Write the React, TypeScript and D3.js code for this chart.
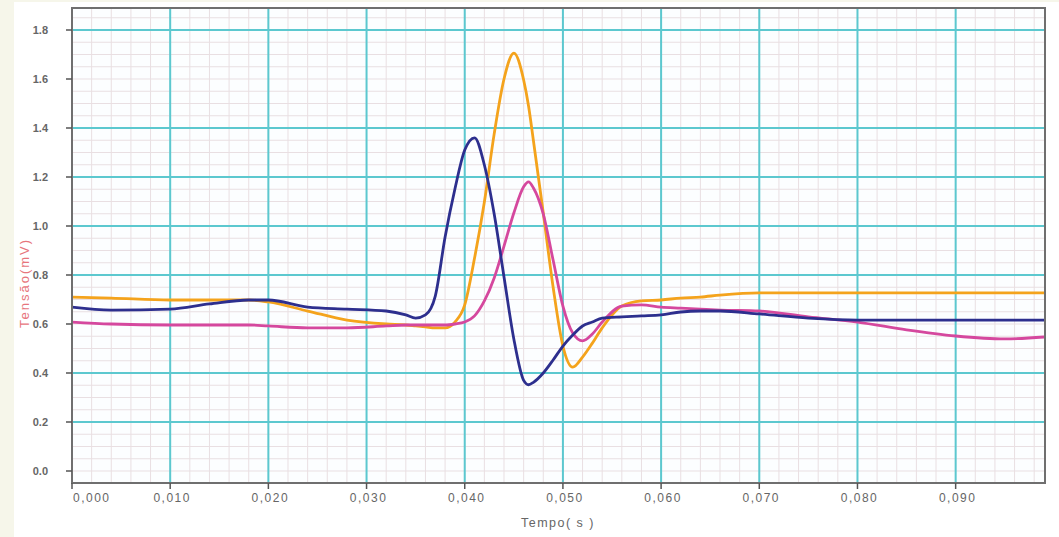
import React, { useEffect, useRef } from 'react';
import * as d3 from 'd3';

// sample times (s)
const times = [
  0, 0.004, 0.01, 0.014, 0.018, 0.02, 0.024, 0.028, 0.032, 0.034, 0.035, 0.036, 0.037, 0.038,
  0.039, 0.04, 0.041, 0.042, 0.043, 0.044, 0.045, 0.046, 0.0465, 0.047, 0.048, 0.049, 0.05,
  0.051, 0.052, 0.053, 0.054, 0.056, 0.058, 0.06, 0.062, 0.064, 0.066, 0.07, 0.075, 0.08,
  0.085, 0.09, 0.095, 0.099,
];

const orangeValues = [
  0.71, 0.706, 0.698, 0.698, 0.698, 0.69, 0.653, 0.616, 0.6, 0.596, 0.592, 0.588, 0.584, 0.584,
  0.608, 0.678, 0.869, 1.098, 1.376, 1.6, 1.706, 1.596, 1.49, 1.347, 1.053, 0.751, 0.51, 0.424,
  0.465, 0.522, 0.584, 0.673, 0.694, 0.698, 0.706, 0.71, 0.718, 0.727, 0.727, 0.727, 0.727,
  0.727, 0.727, 0.727,
];

const blueValues = [
  0.669, 0.657, 0.661, 0.682, 0.698, 0.698, 0.669, 0.661, 0.653, 0.637, 0.624, 0.637, 0.714,
  0.955, 1.151, 1.31, 1.36, 1.249, 1.049, 0.792, 0.539, 0.37, 0.352, 0.362, 0.4, 0.453, 0.51,
  0.555, 0.592, 0.608, 0.624, 0.629, 0.633, 0.637, 0.649, 0.653, 0.653, 0.641, 0.624, 0.616,
  0.616, 0.616, 0.616, 0.616,
];

const magentaValues = [
  0.608, 0.6, 0.596, 0.596, 0.596, 0.592, 0.584, 0.584, 0.592, 0.596, 0.596, 0.596, 0.596,
  0.596, 0.6, 0.608, 0.633, 0.694, 0.788, 0.918, 1.053, 1.16, 1.18, 1.155, 1.049, 0.861, 0.673,
  0.563, 0.531, 0.559, 0.608, 0.673, 0.678, 0.669, 0.665, 0.661, 0.657, 0.653, 0.629, 0.608,
  0.576, 0.551, 0.539, 0.547,
];

const xTicks = [0, 0.01, 0.02, 0.03, 0.04, 0.05, 0.06, 0.07, 0.08, 0.09];
const xTickLabels = ['0,000', '0,010', '0,020', '0,030', '0,040', '0,050', '0,060', '0,070', '0,080', '0,090'];
const yTicks = [1.8, 1.6, 1.4, 1.2, 1.0, 0.8, 0.6, 0.4, 0.2, 0.0];
const yTickLabels = ['1.8', '1.6', '1.4', '1.2', '1.0', '0.8', '0.6', '0.4', '0.2', '0.0'];
// horizontal cyan lines visible in the original
const yMajorGrid = [1.8, 1.4, 1.2, 1.0, 0.8, 0.4, 0.2];

const series = [
  { name: 'orange', values: orangeValues, color: '#f4a31c' },
  { name: 'magenta', values: magentaValues, color: '#d5489e' },
  { name: 'blue', values: blueValues, color: '#2d2f8e' },
];

const W = 1059;
const H = 537;

const App: React.FC = () => {
  const ref = useRef<SVGSVGElement>(null);

  useEffect(() => {
    const svg = d3.select(ref.current);
    svg.selectAll('*').remove();

    const left = 72, right = 1045, top = 8, bottom = 483;

    const x = d3.scaleLinear().domain([0, 0.0991]).range([left, right]);
    const y = d3.scaleLinear().domain([0, 0.8]).range([471, 275]);

    svg.append('rect').attr('width', W).attr('height', H).attr('fill', '#f6f6ea');
    svg.append('rect').attr('x', 14).attr('y', 2).attr('width', W - 14).attr('height', H - 2).attr('fill', '#ffffff');
    svg.append('rect').attr('x', left).attr('y', top).attr('width', right - left).attr('height', bottom - top).attr('fill', '#fcfeff');

    const g = svg.append('g');

    // minor grid
    const minorX = d3.range(0.002, 0.0991, 0.002);
    g.selectAll('line.mx').data(minorX).join('line')
      .attr('x1', d => x(d)).attr('x2', d => x(d))
      .attr('y1', top).attr('y2', bottom)
      .attr('stroke', '#e9dfe2').attr('stroke-width', 1);
    const minorY = d3.range(-0.0, 1.9, 0.05);
    g.selectAll('line.my').data(minorY).join('line')
      .attr('x1', left).attr('x2', right)
      .attr('y1', d => y(d)).attr('y2', d => y(d))
      .attr('stroke', '#e9dfe2').attr('stroke-width', 1);

    // major cyan grid
    g.selectAll('line.vx').data(xTicks.slice(1)).join('line')
      .attr('x1', d => x(d)).attr('x2', d => x(d))
      .attr('y1', top).attr('y2', bottom)
      .attr('stroke', '#5cc8cf').attr('stroke-width', 2);
    g.selectAll('line.hy').data(yMajorGrid).join('line')
      .attr('x1', left).attr('x2', right)
      .attr('y1', d => y(d)).attr('y2', d => y(d))
      .attr('stroke', '#5cc8cf').attr('stroke-width', 2);

    // curves
    const line = d3.line<number>()
      .x((_, i) => x(times[i]))
      .y(d => y(d))
      .curve(d3.curveMonotoneX);

    series.forEach(s => {
      g.append('path')
        .attr('d', line(s.values))
        .attr('fill', 'none')
        .attr('stroke', s.color)
        .attr('stroke-width', 2.8)
        .attr('stroke-linejoin', 'round');
    });

    // frame
    svg.append('rect').attr('x', left).attr('y', top).attr('width', right - left).attr('height', bottom - top)
      .attr('fill', 'none').attr('stroke', '#6f6f6f').attr('stroke-width', 2);

    // y ticks and labels
    svg.selectAll('line.yt').data(yTicks).join('line')
      .attr('x1', left - 6).attr('x2', left)
      .attr('y1', d => y(d)).attr('y2', d => y(d))
      .attr('stroke', '#555').attr('stroke-width', 1.5);
    svg.selectAll('text.yl').data(yTicks).join('text')
      .attr('x', 48).attr('y', d => y(d) + 4)
      .attr('text-anchor', 'end')
      .attr('font-family', 'Liberation Sans, Arial, sans-serif')
      .attr('font-size', 11).attr('font-weight', 'bold').attr('fill', '#666')
      .text((_, i) => yTickLabels[i]);

    // x ticks and labels
    svg.selectAll('line.xt').data(xTicks).join('line')
      .attr('x1', d => x(d)).attr('x2', d => x(d))
      .attr('y1', bottom).attr('y2', bottom + 6)
      .attr('stroke', '#555').attr('stroke-width', 1.5);
    svg.selectAll('text.xl').data(xTicks).join('text')
      .attr('x', (d, i) => (i === 0 ? x(d) + 1 : x(d) + 2))
      .attr('y', 502)
      .attr('text-anchor', (_, i) => (i === 0 ? 'start' : 'middle'))
      .attr('font-family', 'Liberation Sans, Arial, sans-serif')
      .attr('font-size', 12).attr('letter-spacing', 1.5).attr('fill', '#666')
      .text((_, i) => xTickLabels[i]);

    // axis titles
    svg.append('text')
      .attr('x', 558).attr('y', 527)
      .attr('text-anchor', 'middle')
      .attr('font-family', 'Liberation Sans, Arial, sans-serif')
      .attr('font-size', 12.5).attr('letter-spacing', 1.5).attr('fill', '#666')
      .text('Tempo( s )');
    svg.append('text')
      .attr('transform', 'translate(29,283) rotate(-90)')
      .attr('text-anchor', 'middle')
      .attr('font-family', 'Liberation Sans, Arial, sans-serif')
      .attr('font-size', 13).attr('letter-spacing', 2).attr('fill', '#e7757c')
      .text('Tensão(mV)');
  }, []);

  return (
    <svg ref={ref} width={W} height={H} style={{ position: 'absolute', left: 0, top: 0, display: 'block' }} />
  );
};

export default App;
